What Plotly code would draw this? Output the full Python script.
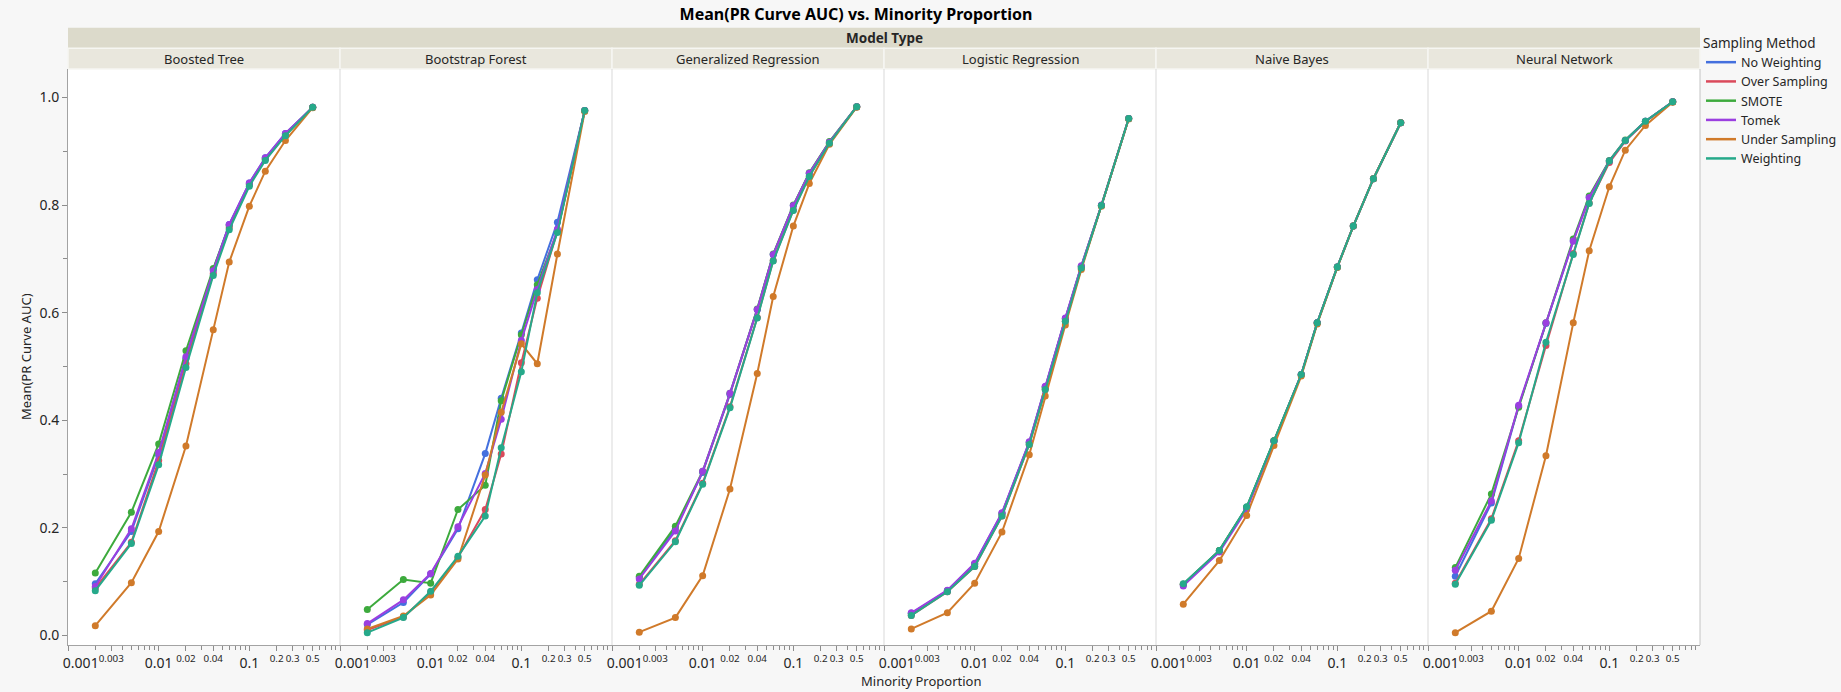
import plotly.graph_objects as go

# ---------------- data ----------------
MINORITY_PROPORTION = [0.002, 0.005, 0.01, 0.02, 0.04, 0.06, 0.1, 0.15, 0.25, 0.5]

MODEL_TYPES = ["Boosted Tree", "Bootstrap Forest", "Generalized Regression",
               "Logistic Regression", "Naive Bayes", "Neural Network"]

SAMPLING_METHODS = ["No Weighting", "Over Sampling", "SMOTE", "Tomek",
                    "Under Sampling", "Weighting"]

METHOD_COLORS = ["#4470DE", "#DA4A5B", "#3DAA3D", "#9B3FE0", "#D07A2A", "#26A98A"]

# rows follow SAMPLING_METHODS order
BOOSTED_TREE = [
    [0.096, 0.193, 0.335, 0.515, 0.680, 0.764, 0.841, 0.888, 0.933, 0.982],
    [0.088, 0.173, 0.325, 0.505, 0.673, 0.758, 0.838, 0.885, 0.930, 0.982],
    [0.116, 0.229, 0.356, 0.529, 0.682, 0.762, 0.839, 0.886, 0.931, 0.982],
    [0.091, 0.198, 0.340, 0.518, 0.678, 0.764, 0.841, 0.888, 0.933, 0.982],
    [0.018, 0.098, 0.193, 0.352, 0.568, 0.694, 0.798, 0.863, 0.920, 0.981],
    [0.083, 0.171, 0.317, 0.498, 0.669, 0.754, 0.835, 0.883, 0.929, 0.982],
]
BOOTSTRAP_FOREST = [
    [0.020, 0.061, 0.114, 0.198, 0.338, 0.441, 0.562, 0.661, 0.768, 0.976],
    [0.010, 0.034, 0.080, 0.145, 0.234, 0.337, 0.507, 0.627, 0.752, 0.976],
    [0.048, 0.104, 0.097, 0.234, 0.279, 0.436, 0.559, 0.652, 0.751, 0.976],
    [0.022, 0.066, 0.115, 0.202, 0.301, 0.402, 0.548, 0.643, 0.755, 0.976],
    [0.012, 0.036, 0.075, 0.142, 0.298, 0.415, 0.542, 0.505, 0.709, 0.974],
    [0.005, 0.033, 0.082, 0.147, 0.222, 0.349, 0.490, 0.637, 0.749, 0.976],
]
GENERALIZED_REGRESSION = [
    [0.107, 0.198, 0.303, 0.448, 0.606, 0.708, 0.799, 0.859, 0.917, 0.983],
    [0.095, 0.176, 0.283, 0.425, 0.591, 0.697, 0.791, 0.854, 0.915, 0.983],
    [0.110, 0.203, 0.305, 0.450, 0.607, 0.709, 0.800, 0.860, 0.918, 0.983],
    [0.105, 0.194, 0.305, 0.450, 0.606, 0.708, 0.799, 0.859, 0.917, 0.983],
    [0.006, 0.033, 0.111, 0.272, 0.487, 0.630, 0.761, 0.840, 0.913, 0.982],
    [0.093, 0.174, 0.281, 0.423, 0.590, 0.696, 0.790, 0.853, 0.915, 0.983],
]
LOGISTIC_REGRESSION = [
    [0.041, 0.083, 0.133, 0.227, 0.359, 0.462, 0.589, 0.686, 0.799, 0.961],
    [0.037, 0.081, 0.128, 0.222, 0.355, 0.457, 0.584, 0.683, 0.799, 0.961],
    [0.040, 0.083, 0.132, 0.226, 0.358, 0.461, 0.588, 0.686, 0.799, 0.961],
    [0.042, 0.084, 0.134, 0.228, 0.360, 0.463, 0.590, 0.687, 0.800, 0.961],
    [0.012, 0.042, 0.097, 0.192, 0.336, 0.445, 0.577, 0.680, 0.798, 0.960],
    [0.037, 0.081, 0.128, 0.222, 0.355, 0.457, 0.584, 0.683, 0.799, 0.961],
]
NAIVE_BAYES = [
    [0.094, 0.157, 0.237, 0.362, 0.485, 0.581, 0.685, 0.761, 0.849, 0.953],
    [0.095, 0.158, 0.238, 0.362, 0.485, 0.581, 0.685, 0.761, 0.849, 0.953],
    [0.095, 0.158, 0.238, 0.362, 0.485, 0.581, 0.685, 0.761, 0.849, 0.953],
    [0.092, 0.155, 0.234, 0.361, 0.485, 0.581, 0.685, 0.761, 0.849, 0.953],
    [0.058, 0.139, 0.223, 0.353, 0.482, 0.579, 0.684, 0.761, 0.849, 0.953],
    [0.096, 0.158, 0.239, 0.362, 0.485, 0.581, 0.685, 0.761, 0.849, 0.953],
]
NEURAL_NETWORK = [
    [0.110, 0.246, 0.426, 0.580, 0.733, 0.814, 0.882, 0.920, 0.956, 0.992],
    [0.097, 0.217, 0.362, 0.539, 0.710, 0.804, 0.879, 0.919, 0.955, 0.992],
    [0.126, 0.263, 0.424, 0.581, 0.737, 0.817, 0.883, 0.921, 0.956, 0.992],
    [0.121, 0.250, 0.428, 0.581, 0.733, 0.814, 0.882, 0.920, 0.956, 0.992],
    [0.005, 0.045, 0.143, 0.334, 0.581, 0.715, 0.834, 0.902, 0.948, 0.991],
    [0.095, 0.214, 0.358, 0.545, 0.708, 0.803, 0.882, 0.920, 0.956, 0.992],
]

PANEL_VALUES = {
    "Boosted Tree": BOOSTED_TREE,
    "Bootstrap Forest": BOOTSTRAP_FOREST,
    "Generalized Regression": GENERALIZED_REGRESSION,
    "Logistic Regression": LOGISTIC_REGRESSION,
    "Naive Bayes": NAIVE_BAYES,
    "Neural Network": NEURAL_NETWORK,
}

NBSP = "\u00a0"
X_TICK_VALUES = [0.001, 0.003, 0.01, 0.02, 0.04, 0.1, 0.2, 0.3, 0.5]
X_TICK_TEXT = [NBSP * 7 + "0.001", "<sup>0.003</sup>", "0.01", "<sup>0.02</sup>",
               "<sup>0.04</sup>", "0.1", "<sup>0.2</sup>", "<sup>0.3</sup>", "<sup>0.5</sup>"]
X_MINOR_TICKS = [k * 10.0 ** e for e in (-3, -2, -1) for k in range(2, 10)]

Y_TICK_VALUES = [0.0, 0.2, 0.4, 0.6, 0.8, 1.0]
Y_TICK_TEXT = ["0.0", "0.2", "0.4", "0.6", "0.8", "1.0"]
Y_MINOR_TICKS = [0.1, 0.3, 0.5, 0.7, 0.9]

TITLE = "Mean(PR Curve AUC) vs. Minority Proportion"
X_TITLE = "Minority Proportion"
Y_TITLE = "Mean(PR Curve AUC)"
FACET_TITLE = "Model Type"
LEGEND_TITLE = "Sampling Method"

# ---------------- layout geometry ----------------
W, H = 1841, 692
ML, MR, MT, MB = 68, 141, 69, 47
PW, PH = W - ML - MR, H - MT - MB
FONT = "Noto Sans, Open Sans, Arial, sans-serif"
TXT = "#262626"
AXIS_LINE = "#a3a3a3"
N = len(MODEL_TYPES)


def py(px_from_top):
    """pixel row (from top of page) -> paper y"""
    return (H - MB - px_from_top) / PH


def px(px_from_left):
    return (px_from_left - ML) / PW


fig = go.Figure()

for i, model in enumerate(MODEL_TYPES):
    xa = "x" if i == 0 else f"x{i + 1}"
    for j, method in enumerate(SAMPLING_METHODS):
        fig.add_trace(go.Scatter(
            x=MINORITY_PROPORTION, y=PANEL_VALUES[model][j],
            mode="lines+markers", name=method, legendgroup=method,
            line=dict(color=METHOD_COLORS[j], width=2),
            marker=dict(color=METHOD_COLORS[j], size=7),
            xaxis=xa, yaxis="y", showlegend=False,
        ))

for j, method in enumerate(SAMPLING_METHODS):
    fig.add_trace(go.Scatter(
        x=[None], y=[None], mode="lines", name=method, legendgroup=method,
        line=dict(color=METHOD_COLORS[j], width=2.5), xaxis="x", yaxis="y",
        showlegend=True,
    ))

layout = dict(
    width=W, height=H,
    margin=dict(l=ML, r=MR, t=MT, b=MB, autoexpand=False),
    paper_bgcolor="#f7f7f7", plot_bgcolor="white",
    font=dict(family=FONT, color=TXT, size=13),
    title=dict(text=f"<b>{TITLE}</b>", x=856 / W, xref="container", xanchor="center",
               y=1 - 14 / H, yref="container", yanchor="middle",
               font=dict(size=16, color="black", family=FONT)),
    showlegend=True,
    legend=dict(
        title=dict(text=LEGEND_TITLE, font=dict(size=13.5, color=TXT)),
        font=dict(size=12.5, color=TXT),
        x=px(1701), xanchor="left", y=py(30), yanchor="top",
        bgcolor="rgba(0,0,0,0)", borderwidth=0, itemwidth=30,
        tracegroupgap=0,
    ),
    yaxis=dict(
        range=[-0.0179, 1.053], domain=[0, 1], anchor="x",
        showline=True, linecolor=AXIS_LINE, linewidth=1, mirror=False,
        ticks="outside", ticklen=5, tickcolor="#8c8c8c",
        tickmode="array", tickvals=Y_TICK_VALUES, ticktext=Y_TICK_TEXT,
        tickfont=dict(size=14, color=TXT),
        minor=dict(tickmode="array", tickvals=Y_MINOR_TICKS, ticks="outside",
                   ticklen=4, tickcolor="#8c8c8c", showgrid=False),
        showgrid=False, zeroline=False,
    ),
)

for i in range(N):
    key = "xaxis" if i == 0 else f"xaxis{i + 1}"
    layout[key] = dict(
        type="log", range=[-3, 0], domain=[i / N, (i + 1) / N], anchor="y",
        showline=True, linecolor=AXIS_LINE, linewidth=1,
        ticks="outside", ticklen=5, tickcolor="#8c8c8c",
        tickmode="array", tickvals=X_TICK_VALUES, ticktext=X_TICK_TEXT,
        tickfont=dict(size=14, color=TXT), tickangle=0,
        minor=dict(tickmode="array", tickvals=X_MINOR_TICKS, ticks="outside",
                   ticklen=4, tickcolor="#8c8c8c", showgrid=False),
        showgrid=False, zeroline=False,
    )

shapes = []
# facet header band and strips
band_top, band_bot, strip_bot = py(27.7), py(48.3), py(69)
shapes.append(dict(type="rect", xref="paper", yref="paper", x0=0, x1=1,
                   y0=band_bot, y1=band_top, fillcolor="#dcdacb", line=dict(width=0),
                   layer="below"))
for i in range(N):
    shapes.append(dict(type="rect", xref="paper", yref="paper", x0=i / N, x1=(i + 1) / N,
                       y0=strip_bot, y1=band_bot, fillcolor="#e9e7dd",
                       line=dict(color="#f6f6f2", width=1.5), layer="below"))
# panel separators
for i in range(1, N):
    shapes.append(dict(type="line", xref="paper", yref="paper", x0=i / N, x1=i / N,
                       y0=0, y1=1, line=dict(color="#d9d9d9", width=1)))
shapes.append(dict(type="line", xref="paper", yref="paper", x0=1, x1=1,
                   y0=0, y1=1, line=dict(color="#c4c4c4", width=1)))
layout["shapes"] = shapes

annotations = [
    dict(text=f"<b>{FACET_TITLE}</b>", xref="paper", yref="paper", x=0.5,
         y=(band_top + band_bot) / 2, xanchor="center", yanchor="middle",
         showarrow=False, font=dict(size=13.5, color=TXT)),
    dict(text=X_TITLE, xref="paper", yref="paper", x=px(921), y=py(681),
         xanchor="center", yanchor="middle", showarrow=False,
         font=dict(size=13, color=TXT)),
    dict(text=Y_TITLE, xref="paper", yref="paper", x=px(26), y=py(357),
         xanchor="center", yanchor="middle", textangle=-90, showarrow=False,
         font=dict(size=13, color=TXT)),
]
for i, model in enumerate(MODEL_TYPES):
    annotations.append(dict(text=model, xref="paper", yref="paper",
                            x=(i + 0.5) / N, y=(strip_bot + band_bot) / 2,
                            xanchor="center", yanchor="middle", showarrow=False,
                            font=dict(size=13, color=TXT)))
layout["annotations"] = annotations

fig.update_layout(**layout)
fig.write_html("out.html")
